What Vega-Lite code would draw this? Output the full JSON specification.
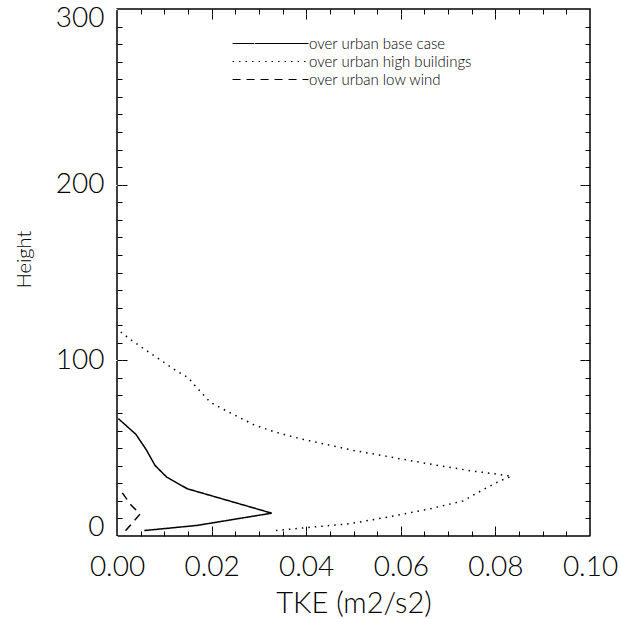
{
  "$schema": "https://vega.github.io/schema/vega-lite/v6.json",
  "width": 473,
  "height": 527,
  "autosize": {"type": "none"},
  "padding": {"left": 117, "top": 9, "right": 30, "bottom": 83},
  "background": "white",
  "config": {
    "view": {"stroke": "black", "strokeWidth": 1.5},
    "font": "Lato",
    "axis": {
      "grid": false,
      "labelColor": "black",
      "titleColor": "black",
      "labelFont": "Lato",
      "titleFont": "Lato",
      "labelFontWeight": 300,
      "titleFontWeight": 300,
      "labelFontSize": 28,
      "titleFontSize": 29,
      "labelOverlap": false
    }
  },
  "data": {
    "values": [
      {"series": "over urban base case", "i": 1, "tke": 0.00577, "h": 3.1},
      {"series": "over urban base case", "i": 2, "tke": 0.01685, "h": 6.0},
      {"series": "over urban base case", "i": 3, "tke": 0.0327, "h": 13.0},
      {"series": "over urban base case", "i": 4, "tke": 0.01486, "h": 26.9},
      {"series": "over urban base case", "i": 5, "tke": 0.0105, "h": 33.5},
      {"series": "over urban base case", "i": 6, "tke": 0.00803, "h": 40.2},
      {"series": "over urban base case", "i": 7, "tke": 0.00628, "h": 48.7},
      {"series": "over urban base case", "i": 8, "tke": 0.00402, "h": 57.8},
      {"series": "over urban base case", "i": 9, "tke": 0.0003, "h": 66.8},
      {"series": "over urban high buildings", "i": 1, "tke": 0.0336, "h": 3.1},
      {"series": "over urban high buildings", "i": 2, "tke": 0.0397, "h": 4.7},
      {"series": "over urban high buildings", "i": 3, "tke": 0.0493, "h": 7.0},
      {"series": "over urban high buildings", "i": 4, "tke": 0.0591, "h": 11.7},
      {"series": "over urban high buildings", "i": 5, "tke": 0.0662, "h": 15.5},
      {"series": "over urban high buildings", "i": 6, "tke": 0.0732, "h": 20.0},
      {"series": "over urban high buildings", "i": 7, "tke": 0.0774, "h": 26.4},
      {"series": "over urban high buildings", "i": 8, "tke": 0.081, "h": 31.4},
      {"series": "over urban high buildings", "i": 9, "tke": 0.0834, "h": 34.0},
      {"series": "over urban high buildings", "i": 10, "tke": 0.0799, "h": 35.4},
      {"series": "over urban high buildings", "i": 11, "tke": 0.0753, "h": 36.9},
      {"series": "over urban high buildings", "i": 12, "tke": 0.0669, "h": 40.6},
      {"series": "over urban high buildings", "i": 13, "tke": 0.0598, "h": 44.0},
      {"series": "over urban high buildings", "i": 14, "tke": 0.050, "h": 48.7},
      {"series": "over urban high buildings", "i": 15, "tke": 0.0387, "h": 55.4},
      {"series": "over urban high buildings", "i": 16, "tke": 0.033, "h": 59.5},
      {"series": "over urban high buildings", "i": 17, "tke": 0.0288, "h": 63.5},
      {"series": "over urban high buildings", "i": 18, "tke": 0.0232, "h": 71.1},
      {"series": "over urban high buildings", "i": 19, "tke": 0.0197, "h": 76.2},
      {"series": "over urban high buildings", "i": 20, "tke": 0.0161, "h": 86.7},
      {"series": "over urban high buildings", "i": 21, "tke": 0.0151, "h": 90.1},
      {"series": "over urban high buildings", "i": 22, "tke": 0.0126, "h": 93.9},
      {"series": "over urban high buildings", "i": 23, "tke": 0.0091, "h": 100.4},
      {"series": "over urban high buildings", "i": 24, "tke": 0.0056, "h": 106.7},
      {"series": "over urban high buildings", "i": 25, "tke": 0.0031, "h": 111.4},
      {"series": "over urban high buildings", "i": 26, "tke": 0.0008, "h": 116.1},
      {"series": "over urban low wind", "i": 1, "tke": 0.0018, "h": 3.0},
      {"series": "over urban low wind", "i": 2, "tke": 0.0049, "h": 12.6},
      {"series": "over urban low wind", "i": 3, "tke": 0.003, "h": 17.5},
      {"series": "over urban low wind", "i": 4, "tke": 0.0006, "h": 26.5}
    ]
  },
  "layer": [
    {
      "mark": {"type": "line", "color": "black", "strokeWidth": 1.5},
      "encoding": {
        "x": {
          "field": "tke", "type": "quantitative",
          "scale": {"domain": [0, 0.1], "nice": false, "zero": false},
          "axis": {
            "orient": "bottom",
            "title": "TKE (m2/s2)",
            "values": [0, 0.02, 0.04, 0.06, 0.08, 0.1],
            "format": ".2f",
            "domain": false,
            "tickColor": "white",
            "labelPadding": 12,
            "labelFlush": false,
            "titlePadding": 8
          }
        },
        "y": {
          "field": "h", "type": "quantitative",
          "scale": {"domain": [0, 300], "nice": false, "zero": false},
          "axis": {
            "orient": "left",
            "title": "Height",
            "titleFontSize": 20,
            "titleY": 250,
            "values": [0, 100, 200, 300],
            "format": "d",
            "domain": false,
            "tickColor": "white",
            "labelPadding": 8,
            "labelFlush": true,
            "labelFlushOffset": 5,
            "titlePadding": 21
          }
        },
        "order": {"field": "i", "type": "quantitative"},
        "strokeDash": {
          "field": "series", "type": "nominal",
          "scale": {
            "domain": ["over urban base case", "over urban high buildings", "over urban low wind"],
            "range": [[1, 0], [1.5, 5], [8, 6]]
          },
          "legend": {
            "orient": "none",
            "legendX": 146,
            "legendY": 27,
            "title": null,
            "symbolType": "M-8,0H8",
            "symbolSize": 90,
            "symbolStrokeWidth": 1.2,
            "symbolStrokeColor": "black",
            "labelFontSize": 15,
            "labelFont": "Lato",
            "labelFontWeight": 300,
            "labelColor": "black",
            "labelLimit": 400,
            "labelOffset": 31,
            "rowPadding": 2,
            "padding": 0
          }
        }
      }
    },
    {
      "mark": {"type": "line", "color": "black", "strokeOpacity": 0},
      "encoding": {
        "x": {
          "field": "tke", "type": "quantitative",
          "axis": {
            "orient": "top", "offset": -527, "title": null, "labels": false, "domain": false,
            "tickColor": "black",
            "values": [0.005,0.01,0.015,0.02,0.025,0.03,0.035,0.04,0.045,0.05,0.055,0.06,0.065,0.07,0.075,0.08,0.085,0.09,0.095]
          }
        },
        "y": {
          "field": "h", "type": "quantitative",
          "axis": {
            "orient": "right", "offset": -473, "title": null, "labels": false, "domain": false,
            "tickColor": "black",
            "values": [10,20,30,40,50,60,70,80,90,100,110,120,130,140,150,160,170,180,190,200,210,220,230,240,250,260,270,280,290]
          }
        },
        "order": {"field": "i", "type": "quantitative"},
        "detail": {"field": "series", "type": "nominal"}
      }
    },
    {
      "mark": {"type": "line", "color": "black", "strokeOpacity": 0},
      "encoding": {
        "x": {
          "field": "tke", "type": "quantitative",
          "axis": {
            "orient": "bottom", "offset": -527, "title": null, "labels": false, "domain": false,
            "tickColor": "black",
            "values": [0.005,0.01,0.015,0.02,0.025,0.03,0.035,0.04,0.045,0.05,0.055,0.06,0.065,0.07,0.075,0.08,0.085,0.09,0.095]
          }
        },
        "y": {
          "field": "h", "type": "quantitative",
          "axis": {
            "orient": "left", "offset": -473, "title": null, "labels": false, "domain": false,
            "tickColor": "black",
            "values": [10,20,30,40,50,60,70,80,90,100,110,120,130,140,150,160,170,180,190,200,210,220,230,240,250,260,270,280,290]
          }
        },
        "order": {"field": "i", "type": "quantitative"},
        "detail": {"field": "series", "type": "nominal"}
      }
    },
    {
      "mark": {"type": "line", "color": "black", "strokeOpacity": 0},
      "encoding": {
        "x": {
          "field": "tke", "type": "quantitative",
          "axis": {
            "orient": "top", "offset": -522, "title": null, "labels": false, "domain": false,
            "tickColor": "black",
            "values": [0.02, 0.04, 0.06, 0.08]
          }
        },
        "y": {
          "field": "h", "type": "quantitative",
          "axis": {
            "orient": "right", "offset": -468, "title": null, "labels": false, "domain": false,
            "tickColor": "black",
            "values": [100, 200]
          }
        },
        "order": {"field": "i", "type": "quantitative"},
        "detail": {"field": "series", "type": "nominal"}
      }
    },
    {
      "mark": {"type": "line", "color": "black", "strokeOpacity": 0},
      "encoding": {
        "x": {
          "field": "tke", "type": "quantitative",
          "axis": {
            "orient": "bottom", "offset": -522, "title": null, "labels": false, "domain": false,
            "tickColor": "black",
            "values": [0.02, 0.04, 0.06, 0.08]
          }
        },
        "y": {
          "field": "h", "type": "quantitative",
          "axis": {
            "orient": "left", "offset": -468, "title": null, "labels": false, "domain": false,
            "tickColor": "black",
            "values": [100, 200]
          }
        },
        "order": {"field": "i", "type": "quantitative"},
        "detail": {"field": "series", "type": "nominal"}
      }
    }
  ],
  "resolve": {"axis": {"x": "independent", "y": "independent"}}
}
